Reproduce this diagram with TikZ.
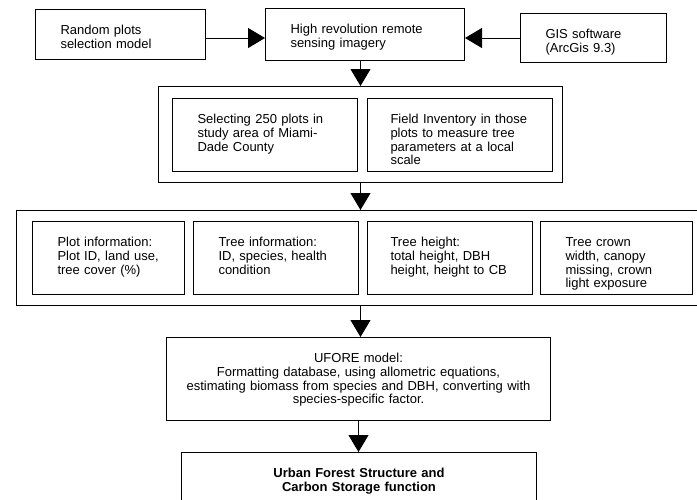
\documentclass[tikz,border=0pt]{standalone}
\usepackage{fontspec}
\setmainfont{Liberation Sans}
\usetikzlibrary{arrows.meta,positioning}

\tikzset{
  box/.style={draw, line width=1pt, inner xsep=25pt, inner ysep=0pt, text height=25pt,
    align=left, anchor=north west, font=\fontsize{13pt}{13.8pt}\selectfont},
  frame/.style={draw, line width=1pt, anchor=north west, inner sep=0pt},
  flow/.style={line width=1pt, -{Triangle[length=17pt,width=20pt]}},
}

\begin{document}
\begin{tikzpicture}[x=1pt, y=-1pt]
  \useasboundingbox (0,0) rectangle (697,499);

  % sources
  \node[box, text width=120pt, text depth=25pt] (rnd) at (35,9) {Random plots\\selection model};
  \node[box, text width=149pt, text depth=27pt] (img) at (265,8) {High revolution remote\\sensing imagery};
  \node[box, text width=96pt, text depth=24pt] (gis) at (520,13) {GIS software\\(ArcGis 9.3)};

  % plot selection
  \node[frame, minimum width=404pt, minimum height=96pt] (sel) at (158,86) {};
  \node[box, text width=135pt, text depth=48pt] (plots) at (172,98) {Selecting 250 plots in\\study area of Miami-\\Dade County};
  \node[box, inner xsep=23pt, text width=139pt, text depth=48pt] (field) at (367,98) {Field Inventory in those\\plots to measure tree\\parameters at a local\\scale};

  % field data
  \node[frame, minimum width=720pt, minimum height=95pt] (data) at (16,210) {};
  \node[box, text width=102pt, text depth=48pt] (plotinfo) at (32,221) {Plot information:\\Plot ID, land use,\\tree cover (\%)};
  \node[box, text width=115pt, text depth=48pt] (treeinfo) at (193,221) {Tree information:\\ID, species, health\\condition};
  \node[box, inner xsep=23pt, text width=119pt, text depth=48pt] (height) at (367,221) {Tree height:\\total height, DBH\\height, height to CB};
  \node[box, text width=102pt, text depth=48pt] (crown) at (540,221) {Tree crown\\width, canopy\\missing, crown\\light exposure};

  % model and result
  \node[box, inner xsep=10pt, text width=364pt, text depth=58pt, align=center] (ufore) at (166,337)
    {UFORE model:\\Formatting database, using allometric equations,\\estimating biomass from species and DBH, converting with\\species-specific factor.};
  \node[box, inner xsep=10pt, text width=335pt, text depth=70pt, align=center, font=\fontsize{13pt}{13.8pt}\selectfont\bfseries] (result) at (181,452)
    {Urban Forest Structure and\\Carbon Storage function};

  \draw[flow] (rnd.east |- gis.west) -- (img.west |- gis.west);
  \draw[flow] (gis.west) -- (img.east |- gis.west);
  \draw[flow] (img.south -| sel.north) -- (sel.north);
  \draw[flow] (sel.south) -- (data.north -| sel.south);
  \draw[flow] (data.south -| sel.south) -- (ufore.north -| sel.south);
  \draw[flow] (ufore.south) -- (result.north -| ufore.south);
\end{tikzpicture}
\end{document}
